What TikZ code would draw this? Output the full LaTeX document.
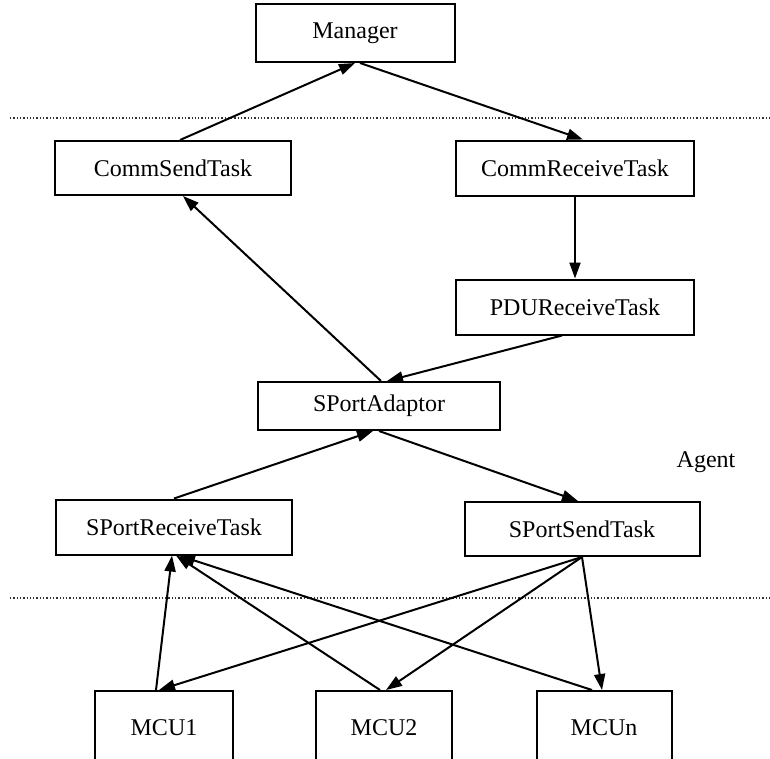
\documentclass[tikz,border=0pt]{standalone}
\usepackage{fontspec}
\setmainfont{Liberation Serif}
\usetikzlibrary{arrows.meta}
\begin{document}
\begin{tikzpicture}[x=1pt,y=-1pt,
  label/.style={font=\fontsize{24}{26}\selectfont},
  box/.style={draw=black, line width=2pt, rectangle, inner sep=0pt, label},
  link/.style={line width=2pt, -{Triangle[length=16pt,width=11pt]}},
  sep/.style={dotted, line width=1.3pt, black!80}]
\clip (0,0) rectangle (770,758);
\fill[white] (0,0) rectangle (770,758);

% upper layer
\node[box, minimum width=199pt, minimum height=58pt] (mgr) at (355,33) {Manager};

% agent tasks
\node[box, minimum width=236pt, minimum height=54pt] (csend) at (173,168) {CommSendTask};
\node[box, minimum width=238pt, minimum height=55pt] (crecv) at (575,168) {CommReceiveTask};
\node[box, minimum width=238pt, minimum height=55pt] (pdu) at (575,307) {PDUReceiveTask};
\node[box, minimum width=242pt, minimum height=48pt] (spa) at (379,406) {SPortAdaptor};
\node[box, minimum width=236pt, minimum height=55pt] (srecv) at (174,527) {SPortReceiveTask};
\node[box, minimum width=235pt, minimum height=54pt] (ssend) at (582,529) {SPortSendTask};
\node[label] (agent) at (706,462) {Agent};

% devices (boxes run past the lower edge)
\node[box, minimum width=138pt, minimum height=100pt, anchor=north] (mcu1) at (164,690) {};
\node[box, minimum width=136pt, minimum height=100pt, anchor=north] (mcu2) at (384,690) {};
\node[box, minimum width=135pt, minimum height=100pt, anchor=north] (mcun) at (604,690) {};
\node[label] (mcu1t) at (164,728) {MCU1};
\node[label] (mcu2t) at (384,728) {MCU2};
\node[label] (mcunt) at (604,728) {MCUn};

% layer separators
\coordinate (s1l) at (10,118);  \coordinate (s1r) at (770,118);
\coordinate (s2l) at (10,598);  \coordinate (s2r) at (770,598);
\draw[sep] (s1l) -- (s1r);
\draw[sep] (s2l) -- (s2r);

% connectors
\draw[link] ([xshift=7pt]csend.north) -- (mgr.south);
\draw[link] ([xshift=5pt]mgr.south) -- ([xshift=8pt]crecv.north);
\draw[link] (crecv.south) -- (pdu.north);
\draw[link] ([xshift=-13pt]pdu.south) -- ([xshift=8pt]spa.north);
\draw[link] ([xshift=2pt]spa.north) -- ([xshift=10pt]csend.south);
\draw[link] (srecv.north) -- ([xshift=-6pt]spa.south);
\draw[link] (spa.south) -- ([xshift=-4pt]ssend.north);

\draw[link] ([xshift=-8pt]mcu1.north) -- ([xshift=-2pt]srecv.south);
\draw[link] ([xshift=-4pt]mcu2.north) -- ([xshift=2pt]srecv.south);
\draw[link] ([xshift=-12pt]mcun.north) -- ([xshift=5pt]srecv.south);
\draw[link] (ssend.south) -- ([xshift=-5pt]mcu1.north);
\draw[link] (ssend.south) -- ([xshift=2pt]mcu2.north);
\draw[link] (ssend.south) -- ([xshift=-2pt]mcun.north);
\end{tikzpicture}
\end{document}
